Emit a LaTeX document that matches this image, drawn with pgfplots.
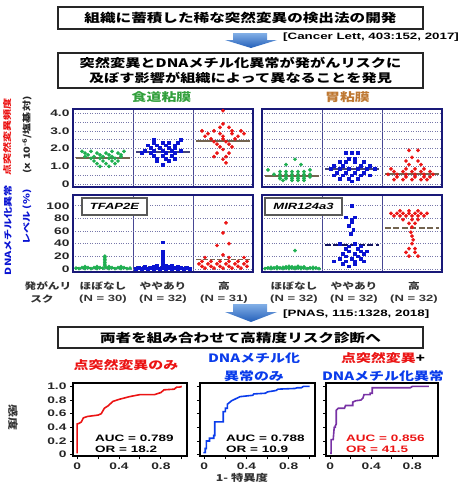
\documentclass[border=0pt]{standalone}
\usepackage{pgfplots}
\pgfplotsset{compat=1.18}
\usepackage{fontspec}
\setmainfont{Liberation Sans}[FakeStretch=1.45]
\newfontfamily\jp{Noto Sans CJK JP}[FakeStretch=1.3]
\definecolor{cgreen}{RGB}{30,175,80}
\definecolor{cblue}{RGB}{10,20,210}
\definecolor{cred}{RGB}{235,20,20}
\definecolor{navy}{RGB}{25,25,120}
\definecolor{gridc}{RGB}{120,120,170}
\definecolor{medc}{RGB}{115,100,80}
\definecolor{hgreen}{RGB}{50,160,60}
\definecolor{hbrown}{RGB}{190,120,50}
\definecolor{rocblue}{RGB}{10,60,235}
\definecolor{rocpurple}{RGB}{120,50,165}
\definecolor{arrtop}{RGB}{130,175,230}
\definecolor{arrbot}{RGB}{35,95,185}
\pgfplotsset{
  sc/.style={scale only axis, width=180pt, anchor=south west,
    xmin=0.5, xmax=3.5, xtick={1.5,2.5}, xticklabels={},
    xmajorgrids, major x grid style={navy!80, line width=0.7pt},
    ymajorgrids, major y grid style={gridc, dotted, line width=0.6pt},
    minor y grid style={gridc, dotted, line width=0.6pt},
    axis line style={navy, line width=1.8pt},
    major tick length=0pt, minor tick length=0pt,
    /pgf/number format/assume math mode=true,
    yticklabel style={font=\bfseries\fontsize{9.5}{10}\selectfont, text=black!85},
    clip=false},
  up/.style={sc, height=78pt, ymin=-0.17, ymax=4.24, ytick={0,1,2,3,4},
    minor ytick={0.5,1.5,2.5,3.5}, yminorgrids},
  lo/.style={sc, height=77pt, ymin=-5, ymax=117, ytick={0,20,40,60,80,100}},
  gm/.style={only marks, mark=*, mark size=1.7pt, mark options={draw=cgreen, fill=cgreen}},
  bm/.style={only marks, mark=square*, mark size=1.35pt, mark options={draw=cblue, fill=cblue}},
  rm/.style={only marks, mark=*, mark size=1.7pt, mark options={draw=cred, fill=cred}},
  med/.style={no marks, line width=1.6pt, color=medc},
  roc/.style={scale only axis, anchor=south west, height=73pt,
    xmin=-0.04, xmax=1.05, ymin=-0.02, ymax=1.05,
    axis line style={black, line width=1.8pt},
    xtick={0,0.2,0.4,0.6,0.8,1}, xticklabels={0,,0.4,,0.8,},
    ytick={0,0.2,0.4,0.6,0.8,1},
    tick pos=left, tick align=outside, major tick length=3pt,
    tick style={black, line width=0.9pt},
    /pgf/number format/assume math mode=true,
    ticklabel style={font=\bfseries\fontsize{9.5}{10}\selectfont, text=black!85}},
}
\begin{document}
\begin{tikzpicture}
\useasboundingbox (0pt,0pt) rectangle (462pt,-483pt);
% ---------- upper left: esophagus mutation frequency
\begin{axis}[up, at={(73pt,-187pt)}, yticklabels={0,1.0,2.0,3.0,4.0}]
\addplot[gm] coordinates {(0.65,1.85)(0.8,1.85)(1.15,1.85)(1.35,1.85)
(0.7,1.75)(0.9,1.75)(1.05,1.75)(1.25,1.75)
(0.75,1.65)(0.95,1.65)(1.1,1.65)(1.3,1.65)
(0.7,1.55)(0.85,1.55)(1.0,1.55)(1.15,1.55)(1.3,1.55)
(0.8,1.45)(0.95,1.45)(1.1,1.45)(1.2,1.45)
(0.85,1.3)(1.0,1.3)(1.15,1.3)(1.25,1.3)
(0.9,1.15)(1.05,1.15)(1.2,1.15)
(0.95,1.0)(1.1,1.0)};
\addplot[bm] coordinates {(1.85,2.5)(2.3,2.5)
(1.85,2.35)(2.0,2.35)(2.1,2.35)(2.25,2.35)
(1.75,2.2)(1.9,2.2)(2.05,2.2)(2.2,2.2)
(1.8,2.05)(1.95,2.05)(2.1,2.05)(2.2,2.05)
(1.7,1.9)(1.85,1.9)(2.0,1.9)(2.15,1.9)(2.3,1.9)
(1.65,1.75)(1.8,1.75)(2.05,1.75)(2.2,1.75)
(1.85,1.6)(2.0,1.6)(2.15,1.6)
(1.9,1.45)(2.05,1.45)(2.2,1.45)
(1.9,1.3)(2.1,1.3)
(2.0,1.1)};
\addplot[rm] coordinates {(3.0,4.15)(3.0,3.4)(2.95,3.2)(3.1,3.2)
(2.65,3.0)(2.85,3.0)(3.15,3.0)(3.3,3.0)
(2.75,2.85)(2.95,2.85)(3.15,2.85)(3.35,2.85)
(2.7,2.7)(3.0,2.7)(3.25,2.7)
(2.8,2.55)(3.0,2.55)(3.2,2.55)
(2.85,2.4)(3.05,2.4)
(2.9,2.25)(3.1,2.25)
(2.95,2.1)(3.15,2.1)
(3.0,1.95)
(2.9,1.75)(3.1,1.75)
(2.85,1.55)(3.05,1.55)
(3.0,1.4)(3.05,1.2)};
\addplot[med] coordinates {(0.55,1.47)(1.45,1.47)};
\addplot[med, color=navy!60!gray] coordinates {(1.55,1.8)(2.45,1.8)};
\addplot[med] coordinates {(2.55,2.43)(3.45,2.43)};
\end{axis}
% ---------- upper right: stomach mutation frequency
\begin{axis}[up, at={(262pt,-187pt)}, yticklabels={}]
\addplot[gm] coordinates {(1.05,1.4)(0.9,1.1)(1.15,1.1)(0.6,0.8)(1.3,0.8)
(0.8,0.7)(0.9,0.7)(1.0,0.7)(1.1,0.7)(1.2,0.7)
(0.7,0.55)(0.8,0.55)(0.9,0.55)(1.0,0.55)(1.1,0.55)(1.2,0.55)(1.3,0.55)
(0.8,0.4)(0.9,0.4)(1.0,0.4)(1.1,0.4)(1.2,0.4)(1.3,0.4)
(0.8,0.3)(0.9,0.3)(1.0,0.3)(1.1,0.3)(1.2,0.3)
(0.85,0.2)(1.0,0.2)(1.1,0.2)(1.2,0.2)};
\addplot[bm] coordinates {(1.9,1.75)(2.0,1.75)(2.1,1.75)
(1.95,1.45)(2.05,1.45)
(1.8,1.25)(1.9,1.25)(2.05,1.25)(2.2,1.25)
(1.7,1.05)(1.85,1.05)(2.15,1.05)(2.3,1.05)
(1.65,0.85)(1.8,0.85)(1.95,0.85)(2.1,0.85)(2.25,0.85)(2.38,0.85)
(1.75,0.65)(1.9,0.65)(2.05,0.65)(2.2,0.65)
(1.7,0.5)(1.85,0.5)(2.0,0.5)(2.15,0.5)(2.3,0.5)
(1.8,0.3)(1.95,0.3)(2.1,0.3)
(2.0,0.15)};
\addplot[rm] coordinates {(2.95,1.9)(3.1,1.9)(3.0,1.5)(2.9,1.3)(3.1,1.3)
(2.95,1.1)(3.15,1.1)
(2.65,0.85)(2.9,0.85)(3.05,0.85)(3.2,0.85)
(2.7,0.7)(2.85,0.7)(3.0,0.7)(3.15,0.7)(3.3,0.7)
(2.6,0.55)(2.75,0.55)(2.9,0.55)(3.05,0.55)(3.2,0.55)(3.35,0.55)
(2.75,0.4)(2.9,0.4)(3.05,0.4)(3.2,0.4)(3.3,0.4)
(2.7,0.25)(2.85,0.25)(3.0,0.25)(3.15,0.25)(3.25,0.25)};
\addplot[med] coordinates {(0.55,0.45)(1.45,0.45)};
\addplot[med, color=navy!60!gray] coordinates {(1.55,0.85)(2.45,0.85)};
\addplot[med] coordinates {(2.55,0.55)(3.45,0.55)};
\end{axis}
% ---------- lower left: TFAP2E methylation
\begin{axis}[lo, at={(73pt,-272pt)}, yticklabels={0,20,40,60,80,100}]
\addplot[gm] coordinates {(0.6,0.5)(0.7,0.5)(0.8,0.5)(0.9,0.5)(1.1,0.5)(1.2,0.5)(1.3,0.5)(1.4,0.5)
(0.65,2)(0.75,2)(0.85,2)(0.95,2)(1.05,2)(1.15,2)(1.25,2)(1.35,2)
(0.7,3.5)(0.9,3.5)(1.1,3.5)(1.3,3.5)
(1.03,5)(1.03,7.5)(1.03,10)(1.03,12.5)(1.03,15)(1.03,17.5)(1.03,20)
(0.55,1)(1.45,1)(1.0,1)};
\addplot[bm] coordinates {(1.55,0.5)(1.65,0.5)(1.75,0.5)(1.85,0.5)(1.95,0.5)(2.05,0.5)(2.15,0.5)(2.25,0.5)(2.35,0.5)(2.45,0.5)
(1.6,2)(1.7,2)(1.8,2)(1.9,2)(2.0,2)(2.1,2)(2.2,2)(2.3,2)(2.4,2)
(1.7,4)(1.85,4)(2.0,4)(2.1,4)(2.25,4)
(1.9,6)(2.05,6)(2.15,6)
(2.0,9)(2.0,14)(2.0,21)(2.0,27)(2.0,42)};
\addplot[rm] coordinates {(3.05,73)(3.0,57)(3.1,40)(2.9,37)(3.0,22)
(2.7,18)(3.1,18)(3.35,18)
(2.65,12)(2.8,12)(2.95,12)(3.1,12)(3.25,12)(3.4,12)
(2.6,8)(2.75,8)(2.9,8)(3.05,8)(3.2,8)(3.35,8)
(2.65,4)(2.8,4)(2.95,4)(3.1,4)(3.25,4)(3.4,4)
(2.7,1)(2.85,1)(3.0,1)(3.15,1)(3.3,1)};
\addplot[med, dashed] coordinates {(0.55,1)(1.45,1)};
\addplot[med, dashed, color=navy!70!gray] coordinates {(1.55,2.5)(2.45,2.5)};
\addplot[med, dash pattern=on 5pt off 2pt] coordinates {(2.55,15)(3.45,15)};
\end{axis}
% ---------- lower right: MIR124a3 methylation
\begin{axis}[lo, at={(262pt,-272pt)}, yticklabels={}]
\addplot[gm] coordinates {(1.05,29)(0.95,4)(1.1,4)
(0.75,3)(0.9,3)(1.0,3)(1.1,3)(1.2,3)
(0.65,2.3)(0.85,2.3)(1.05,2.3)(1.15,2.3)(1.35,2.3)
(0.6,1.5)(0.7,1.5)(0.8,1.5)(0.9,1.5)(1.0,1.5)(1.1,1.5)(1.2,1.5)(1.3,1.5)(1.4,1.5)
(0.55,0.5)(0.65,0.5)(0.75,0.5)(0.85,0.5)(0.95,0.5)(1.05,0.5)(1.15,0.5)(1.25,0.5)(1.35,0.5)(1.45,0.5)};
\addplot[bm] coordinates {(2.0,100)(1.9,82)(2.05,82)(2.0,78)(2.0,74)(1.95,68)(2.02,62)(1.98,56)
(1.8,40)(2.05,40)(1.95,36)(2.15,36)(1.9,32)(2.1,32)
(1.95,28)(2.15,28)(2.25,28)(1.85,24)(2.05,24)(2.2,24)
(1.9,20)(2.1,20)(1.8,16)(2.0,16)(2.15,16)
(1.7,12)(1.9,12)(2.05,12)(2.2,12)(1.85,8)(2.05,8)(1.95,4)};
\addplot[rm] coordinates {(2.8,92)(2.95,92)(3.1,92)
(2.65,88)(2.75,88)(2.85,88)(2.95,88)(3.05,88)(3.15,88)(3.25,88)
(2.7,84)(2.8,84)(2.9,84)(3.0,84)(3.1,84)(3.2,84)
(2.85,78)(3.0,78)(3.1,78)(2.95,72)(3.05,72)
(3.0,66)(2.98,58)(3.0,52)(3.02,46)(3.0,40)
(2.95,32)(3.05,32)(2.9,26)(3.05,26)(2.95,20)(3.1,20)};
\addplot[med, dashed] coordinates {(0.55,1)(1.45,1)};
\addplot[no marks, line width=1.8pt, color=navy!80!black, dash pattern=on 6pt off 2.5pt] coordinates {(1.55,38)(2.45,38)};
\addplot[med, line width=1.8pt, dash pattern=on 6pt off 2.5pt] coordinates {(2.55,65)(3.45,65)};
\end{axis}
% ---------- ROC curves
\begin{axis}[roc, at={(73pt,-456pt)}, width=114pt, yticklabels={0,0.2,0.4,0.6,0.8,1.0}]
\addplot[no marks, color=cred, line width=1.6pt] coordinates {(0,0.02)(0,0.45)(0.02,0.46)(0.04,0.48)(0.06,0.54)(0.1,0.56)(0.2,0.58)(0.23,0.6)(0.26,0.68)(0.3,0.72)(0.34,0.78)(0.4,0.81)(0.5,0.85)(0.6,0.88)(0.74,0.88)(0.8,0.91)(0.83,0.95)(0.93,0.96)(0.95,0.99)(0.98,0.99)(1.0,1.0)};
\end{axis}
\begin{axis}[roc, at={(200pt,-456pt)}, width=115pt, yticklabels={}]
\addplot[no marks, color=rocblue, line width=1.6pt] coordinates {(0,0.02)(0,0.03)(0.01,0.03)(0.01,0.09)(0.02,0.09)(0.02,0.2)(0.05,0.2)(0.05,0.24)(0.09,0.24)(0.09,0.28)(0.1,0.28)(0.1,0.48)(0.18,0.48)(0.18,0.63)(0.2,0.63)(0.2,0.68)(0.22,0.68)(0.22,0.74)(0.26,0.79)(0.3,0.82)(0.34,0.85)(0.46,0.87)(0.47,0.89)(0.58,0.9)(0.6,0.92)(0.68,0.94)(0.7,0.96)(0.86,0.97)(0.88,0.98)(0.92,0.98)(0.94,1.0)(1.0,1.0)};
\end{axis}
\begin{axis}[roc, at={(326pt,-456pt)}, width=112pt, yticklabels={}]
\addplot[no marks, color=rocpurple, line width=1.6pt] coordinates {(0,0.02)(0.01,0.02)(0.01,0.22)(0.03,0.22)(0.04,0.4)(0.05,0.4)(0.05,0.42)(0.06,0.45)(0.06,0.65)(0.08,0.68)(0.14,0.68)(0.15,0.72)(0.22,0.72)(0.22,0.77)(0.25,0.79)(0.3,0.8)(0.32,0.83)(0.33,0.88)(0.39,0.88)(0.39,0.9)(0.41,0.9)(0.41,0.98)(0.78,0.98)(0.8,1.0)(0.96,1.0)};
\end{axis}
% ---------- boxes, arrows and texts
\draw[line width=1.5pt, black!85] (58pt,-7pt) rectangle (423pt,-29pt);
\node[font=\jp\bfseries\fontsize{12}{13}\selectfont] at (240.5pt,-18pt) {組織に蓄積した稀な突然変異の検出法の開発};
\shade[top color=arrtop, bottom color=arrbot] (233pt,-33pt) -- (267pt,-33pt) -- (267pt,-40pt) -- (277pt,-40pt) -- (251pt,-48pt) -- (225pt,-40pt) -- (233pt,-40pt) -- cycle;
\node[anchor=west, font=\bfseries\fontsize{9.2}{10}\selectfont, inner sep=0pt] at (283pt,-37pt) {[Cancer Lett, 403:152, 2017]};
\draw[line width=1.5pt, black!85] (58pt,-53pt) rectangle (423pt,-88pt);
\node[font=\jp\bfseries\fontsize{11.7}{13}\selectfont] at (240.5pt,-63pt) {突然変異とDNAメチル化異常が発がんリスクに};
\node[font=\jp\bfseries\fontsize{11.7}{13}\selectfont] at (240.5pt,-78pt) {及ぼす影響が組織によって異なることを発見};
\node[font=\jp\bfseries\fontsize{11.5}{13}\selectfont, text=hgreen] at (161.5pt,-97.5pt) {食道粘膜};
\node[font=\jp\bfseries\fontsize{11.5}{13}\selectfont, text=hbrown] at (347.5pt,-97.5pt) {胃粘膜};
% y labels
\node[rotate=90, font=\jp\bfseries\fontsize{8.5}{9}\selectfont, text=cred] at (7pt,-137pt) {点突然変異頻度};
\node[rotate=90, font=\jp\bfseries\fontsize{8.5}{9}\selectfont, text=black!85] at (27pt,-135pt) {(x 10\textsuperscript{-6}/塩基対)};
\node[rotate=90, font=\jp\bfseries\fontsize{8.5}{9}\selectfont, text=cblue] at (8pt,-230pt) {DNAメチル化異常};
\node[rotate=90, font=\jp\bfseries\fontsize{8.5}{9}\selectfont, text=cblue] at (27pt,-217pt) {レベル (\%)};
% gene boxes
\node[draw=black!65, line width=1.3pt, fill=white, minimum width=65pt, minimum height=17pt, inner sep=0pt, font=\bfseries\itshape\fontsize{9}{10}\selectfont] at (114.5pt,-206.5pt) {TFAP2E};
\node[draw=black!65, line width=1.3pt, fill=white, minimum width=77pt, minimum height=17pt, inner sep=0pt, font=\bfseries\itshape\fontsize{9}{10}\selectfont] at (303.5pt,-206.5pt) {MIR124a3};
% category labels
\begin{scope}[every node/.style={font=\jp\bfseries\fontsize{9}{10}\selectfont, text=black!80, inner sep=0pt}]
\node at (48pt,-286pt) {発がんリ};
\node at (42pt,-299pt) {スク};
\node at (103pt,-286pt) {ほぼなし};
\node at (163pt,-286pt) {ややあり};
\node at (224pt,-286pt) {高};
\node at (294pt,-286pt) {ほぼなし};
\node at (354pt,-286pt) {ややあり};
\node at (414pt,-286pt) {高};
\end{scope}
\begin{scope}[every node/.style={font=\bfseries\fontsize{9}{10}\selectfont, text=black!80, inner sep=0pt}]
\node at (103pt,-299pt) {(N = 30)};
\node at (163pt,-299pt) {(N = 32)};
\node at (224pt,-299pt) {(N = 31)};
\node at (294pt,-299pt) {(N = 32)};
\node at (354pt,-299pt) {(N = 32)};
\node at (414pt,-299pt) {(N = 32)};
\end{scope}
\shade[top color=arrtop, bottom color=arrbot] (233pt,-304pt) -- (267pt,-304pt) -- (267pt,-312pt) -- (277pt,-312pt) -- (251pt,-322pt) -- (225pt,-312pt) -- (233pt,-312pt) -- cycle;
\node[anchor=west, font=\bfseries\fontsize{9.2}{10}\selectfont, inner sep=0pt] at (283pt,-314pt) {[PNAS, 115:1328, 2018]};
\draw[line width=1.5pt, black!85] (58pt,-327pt) rectangle (423pt,-348pt);
\node[font=\jp\bfseries\fontsize{12}{13}\selectfont] at (240.5pt,-337.5pt) {両者を組み合わせて高精度リスク診断へ};
% ROC headers
\node[font=\jp\bfseries\fontsize{11.5}{13}\selectfont, text=cred] at (126pt,-365pt) {点突然変異のみ};
\node[font=\jp\bfseries\fontsize{11.5}{13}\selectfont, text=rocblue] at (254pt,-358pt) {DNAメチル化};
\node[font=\jp\bfseries\fontsize{11.5}{13}\selectfont, text=rocblue] at (254pt,-376pt) {異常のみ};
\node[font=\jp\bfseries\fontsize{11.5}{13}\selectfont] at (383pt,-358pt) {\textcolor{cred}{点突然変異}+};
\node[font=\jp\bfseries\fontsize{11.5}{13}\selectfont, text=rocblue] at (383pt,-376pt) {DNAメチル化異常};
% AUC texts
\begin{scope}[every node/.style={anchor=west, inner sep=0pt, font=\bfseries\fontsize{9.3}{10}\selectfont}]
\node at (95pt,-438pt) {AUC = 0.789};
\node at (95pt,-449pt) {OR = 18.2};
\node at (226pt,-438pt) {AUC = 0.788};
\node at (226pt,-449pt) {OR = 10.9};
\node[text=cred] at (346pt,-438pt) {AUC = 0.856};
\node[text=cred] at (346pt,-449pt) {OR = 41.5};
\end{scope}
\node[rotate=-90, font=\jp\bfseries\fontsize{10}{11}\selectfont, text=black!80] at (13pt,-417pt) {感度};
\node[font=\jp\bfseries\fontsize{9.5}{10}\selectfont, text=black!80] at (242pt,-478pt) {1- 特異度};
\end{tikzpicture}
\end{document}
